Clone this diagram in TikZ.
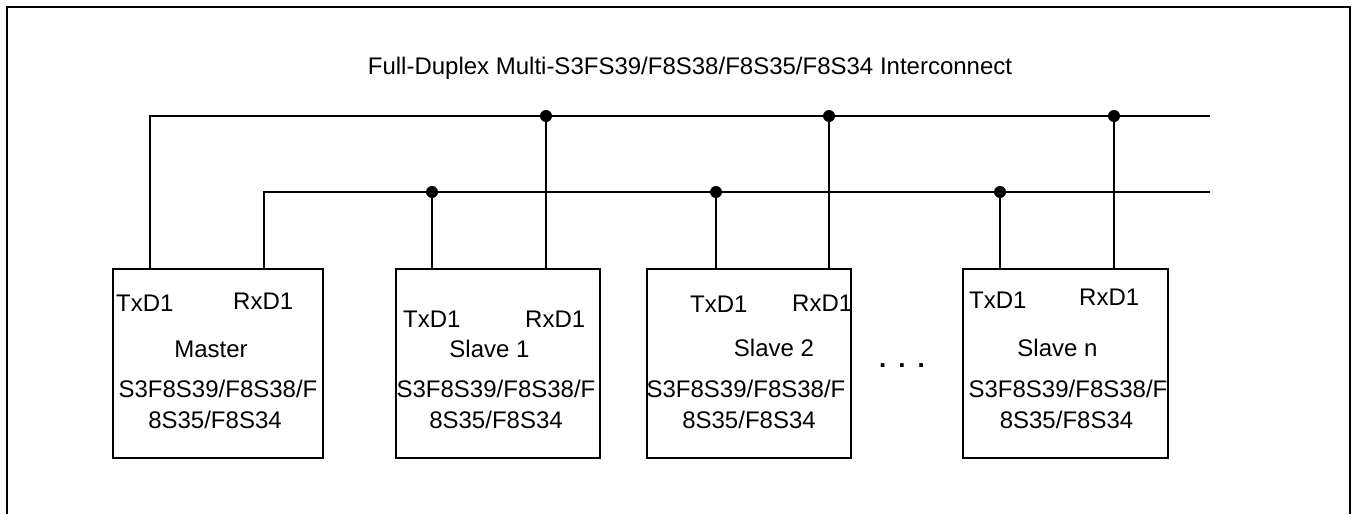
\documentclass[tikz,border=0pt]{standalone}
\usepackage{fontspec}
\setmainfont{Liberation Sans}
\begin{document}
\begin{tikzpicture}[x=1pt,y=-1pt,
  box/.style={draw,line width=2pt,minimum height=189pt,inner sep=0pt},
  lbl/.style={inner sep=0pt,font=\fontsize{24}{28}\selectfont},
  wire/.style={line width=2pt},
  junc/.style={circle,fill,inner sep=0pt,minimum size=12pt},
  frame/.style={line width=2.5pt}
]
\useasboundingbox (0,0) rectangle (1354,514);
% outer frame (open at bottom)
\draw[frame] (7,514) -- (7,7) -- (1350,7) -- (1350,514);
% title
\node[lbl,anchor=base] (title) at (690,74) {Full-Duplex Multi-S3FS39/F8S38/F8S35/F8S34 Interconnect};
% boxes
\node[box,minimum width=210pt] (master) at (217.5,363) {};
\node[box,minimum width=204pt] (slave1) at (498,363) {};
\node[box,minimum width=204pt] (slave2) at (749,363) {};
\node[box,minimum width=205pt] (slaven) at (1065.5,363) {};
% bus coordinates
\coordinate (busTend) at (1210,116);
\coordinate (busRend) at (1210,192);
\coordinate (mT) at (150,116);
\coordinate (mR) at (264,192);
% junctions
\node[junc] (j1r) at (432,192) {};
\node[junc] (j1t) at (546,116) {};
\node[junc] (j2r) at (716,192) {};
\node[junc] (j2t) at (829,116) {};
\node[junc] (jnr) at (1000,192) {};
\node[junc] (jnt) at (1114,116) {};
% buses
\draw[wire] (master.north -| mT) -- (mT) -- (busTend);
\draw[wire] (master.north -| mR) -- (mR) -- (busRend);
\draw[wire] (slave1.north -| j1r) -- (j1r.center);
\draw[wire] (slave1.north -| j1t) -- (j1t.center);
\draw[wire] (slave2.north -| j2r) -- (j2r.center);
\draw[wire] (slave2.north -| j2t) -- (j2t.center);
\draw[wire] (slaven.north -| jnr) -- (jnr.center);
\draw[wire] (slaven.north -| jnt) -- (jnt.center);
% Master texts
\node[lbl,anchor=base west] (mtx) at (116,311) {TxD1};
\node[lbl,anchor=base west] (mrx) at (233,309) {RxD1};
\node[lbl,anchor=base] (mname) at (211,357) {Master};
\node[lbl,anchor=base] (mp1) at (218,397) {S3F8S39/F8S38/F};
\node[lbl,anchor=base] (mp2) at (215,428) {8S35/F8S34};
% Slave 1 texts
\node[lbl,anchor=base west] (s1tx) at (403,327) {TxD1};
\node[lbl,anchor=base west] (s1rx) at (525,327) {RxD1};
\node[lbl,anchor=base] (s1name) at (489.5,357) {Slave 1};
\node[lbl,anchor=base] (s1p1) at (496,397) {S3F8S39/F8S38/F};
\node[lbl,anchor=base] (s1p2) at (496,428) {8S35/F8S34};
% Slave 2 texts
\node[lbl,anchor=base west] (s2tx) at (690,312) {TxD1};
\node[lbl,anchor=base west] (s2rx) at (792,311) {RxD1};
\node[lbl,anchor=base] (s2name) at (774,356) {Slave 2};
\node[lbl,anchor=base] (s2p1) at (746,397) {S3F8S39/F8S38/F};
\node[lbl,anchor=base] (s2p2) at (749,428) {8S35/F8S34};
% Slave n texts
\node[lbl,anchor=base west] (sntx) at (969,308) {TxD1};
\node[lbl,anchor=base west] (snrx) at (1079,305) {RxD1};
\node[lbl,anchor=base] (snname) at (1057.5,356) {Slave n};
\node[lbl,anchor=base] (snp1) at (1068,397) {S3F8S39/F8S38/F};
\node[lbl,anchor=base] (snp2) at (1066.5,428) {8S35/F8S34};
% ellipsis
\node[lbl,anchor=base,font=\fontsize{26}{28}\selectfont\bfseries] (dots) at (902,367) {.\hspace{12pt}.\hspace{12pt}.};
\end{tikzpicture}
\end{document}
